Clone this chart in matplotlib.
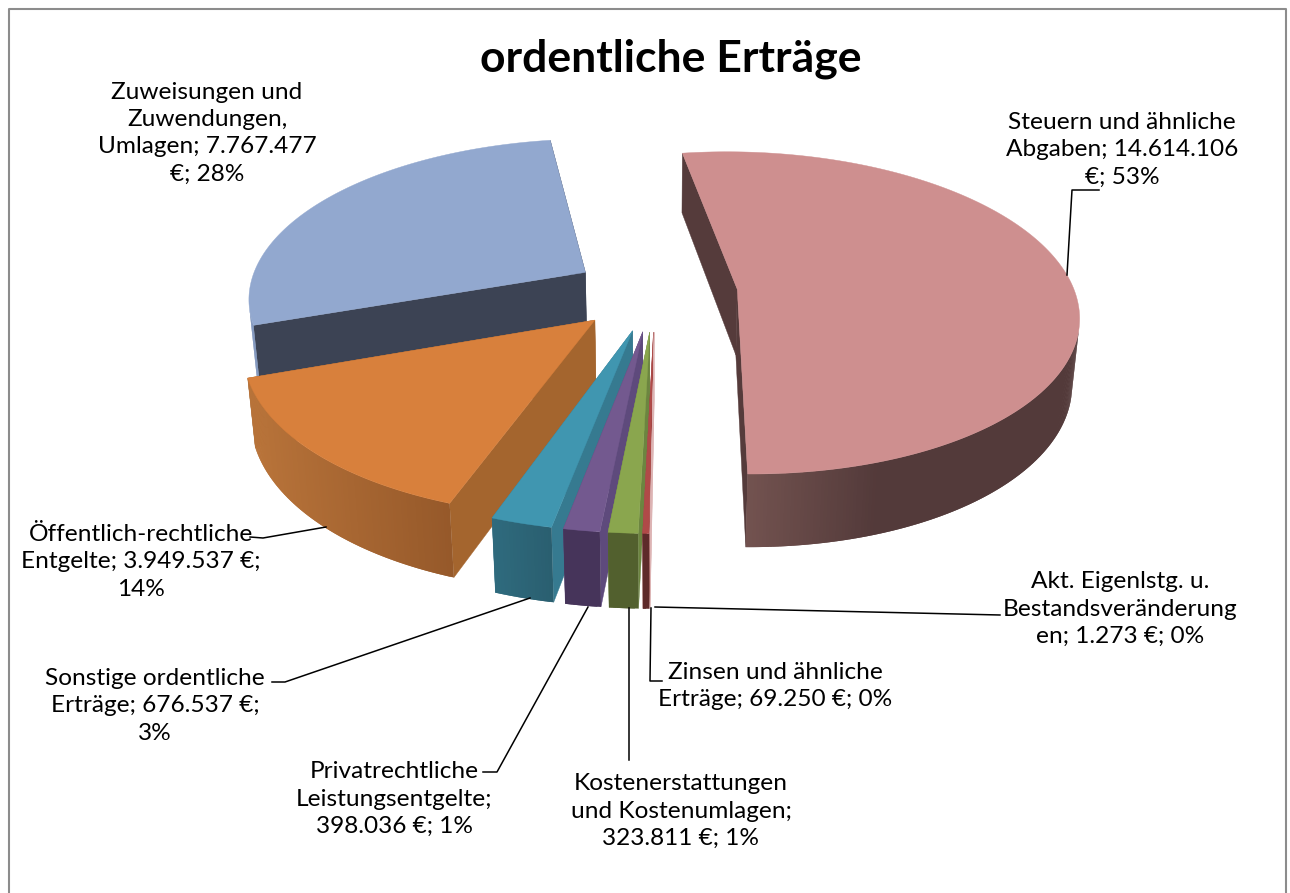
import numpy as np
import matplotlib
matplotlib.use("Agg")
import matplotlib.pyplot as plt
from matplotlib.colors import to_rgb

# ==========================
# Data (clockwise, starting with Steuern)
# ==========================
values = [14614106, 1273, 69250, 323811, 398036, 676537, 3949537, 7767477]
labels = [
    "Steuern und ähnliche\nAbgaben; 14.614.106\n€; 53%",
    "Akt. Eigenlstg. u.\nBestandsveränderung\nen; 1.273 €; 0%",
    "Zinsen und ähnliche\nErträge; 69.250 €; 0%",
    "Kostenerstattungen\nund Kostenumlagen;\n323.811 €; 1%",
    "Privatrechtliche\nLeistungsentgelte;\n398.036 €; 1%",
    "Sonstige ordentliche\nErträge; 676.537 €;\n3%",
    "Öffentlich-rechtliche\nEntgelte; 3.949.537 €;\n14%",
    "Zuweisungen und\nZuwendungen,\nUmlagen; 7.767.477\n€; 28%",
]
title = "ordentliche Erträge"

# ==========================
# Styles
# ==========================
top_colors = ["#CE8F8F", "#DDB4B4", "#B04A48", "#8AA64E", "#73598F", "#4096B0", "#D8803C", "#92A8CF"]
side_colors = ["#553B3B", "#DDB4B4", "#8A3A38", "#6C8540", "#5E4A7C", "#367A90", "#A4652E", "#3C4354"]
outer_near = ["#735350", "#DDB4B4", "#5E2A2A", "#52602E", "#46345A", "#2F6B7E", "#B9743A", "#7C93BC"]
outer_far = ["#533A3A", "#DDB4B4", "#5E2A2A", "#52602E", "#46345A", "#2A5F70", "#96592A", "#7C93BC"]
draw_order = [7, 0, 6, 5, 4, 3, 2, 1]

label_pos = [(1122, 150), (1120, 609), (775, 686), (681, 811), (394, 799), (155, 706), (141, 562), (207, 133)]
leaders = [
    [(1099, 190), (1072, 190), (1067, 275)],
    [(655, 607), (1000, 615)],
    [(662, 681), (650, 681), (651, 608)],
    [(629, 760), (629, 608)],
    [(483, 772), (497, 772), (588, 607)],
    [(272, 682), (285, 682), (530, 598)],
    [(250, 537), (263, 538), (326, 527)],
]

# Projection of the tilted pie
START_DEG = -8.7
EXPLODE = 0.245
TILT = np.radians(28)
CAM_DIST = 6.0
FOCAL = 2025
HEIGHT = 0.225
CX, CY = 655, 292


def project(x, d, z):
    """x right, d away from viewer, z up (pie radius = 1)."""
    depth = CAM_DIST + d * np.cos(TILT) - z * np.sin(TILT)
    up = d * np.sin(TILT) + z * np.cos(TILT)
    return CX + FOCAL * x / depth, CY - FOCAL * up / depth


def blend(c1, c2, t):
    a, b = np.array(to_rgb(c1)), np.array(to_rgb(c2))
    return tuple(a + (b - a) * t)


fig = plt.figure(figsize=(12.9, 8.93), dpi=100)
ax = fig.add_axes([0, 0, 1, 1])
ax.set_xlim(0, 1290)
ax.set_ylim(893, 0)
ax.axis("off")

# chart frame
ax.plot([9, 9, 1286, 1286], [893, 9, 9, 893], color="#8C8C8C", lw=1.5, zorder=1)

fractions = np.array(values) / sum(values)
edges = np.radians(START_DEG + 360 * np.concatenate([[0], np.cumsum(fractions)]))

z = 2
for i in draw_order:
    a0, a1 = edges[i], edges[i + 1]
    mid = (a0 + a1) / 2
    ox, od = EXPLODE * np.sin(mid), EXPLODE * np.cos(mid)
    theta = np.linspace(a0, a1, max(int(np.degrees(a1 - a0) * 2), 2) + 1)
    rx, rd = ox + np.sin(theta), od + np.cos(theta)

    # radial faces
    for a in (a0, a1):
        px, py = project(np.array([ox, ox + np.sin(a), ox + np.sin(a), ox]),
                         np.array([od, od + np.cos(a), od + np.cos(a), od]),
                         np.array([0, 0, -HEIGHT, -HEIGHT]))
        ax.fill(px, py, color=side_colors[i], lw=0.3, zorder=z)
    z += 1

    # outer wall: keep the part facing the camera, split up so it can carry the shading
    tx, ty = project(rx, rd, 0 * rx)
    bx, by = project(rx, rd, 0 * rx - HEIGHT)
    facing = np.sin(theta) * (-rx) + np.cos(theta) * (-CAM_DIST * np.cos(TILT) - rd) > 0
    seen = np.where(facing)[0]
    shade_span = 0.4 if i == 0 else 1.0
    if len(seen) > 1:
        left, right = tx[seen].min(), tx[seen].max()
        for k in seen[:-1]:
            t = (tx[k] - left) / max(right - left, 1) / shade_span
            # each strip runs one step too far, the next one is painted over it
            n = min(k + 2, len(theta) - 1)
            ax.fill([tx[k], tx[k + 1], tx[n], bx[n], bx[k + 1], bx[k]],
                    [ty[k], ty[k + 1], ty[n], by[n], by[k + 1], by[k]],
                    color=blend(outer_near[i], outer_far[i], min(t, 1)), lw=0, zorder=z)
    z += 1

    # top face
    ax_, ay_ = project(np.array([ox]), np.array([od]), np.array([0.0]))
    ax.fill(np.concatenate([ax_, tx]), np.concatenate([ay_, ty]), color=top_colors[i], lw=0.3, zorder=z)
    z += 1

for path in leaders:
    xs, ys = zip(*path)
    ax.plot(xs, ys, color="black", lw=1.1, zorder=z, solid_joinstyle="round")

for text, (x, y) in zip(labels, label_pos):
    ax.text(x, y, text, ha="center", va="center", family="Lato", fontsize=17.6,
            linespacing=1.37, color="black", zorder=z + 1)

ax.text(671, 59, title, ha="center", va="center", family="Lato", fontweight="bold",
        fontsize=32, color="black", zorder=z + 1)

fig.savefig("out.png", dpi=100, facecolor="white")
